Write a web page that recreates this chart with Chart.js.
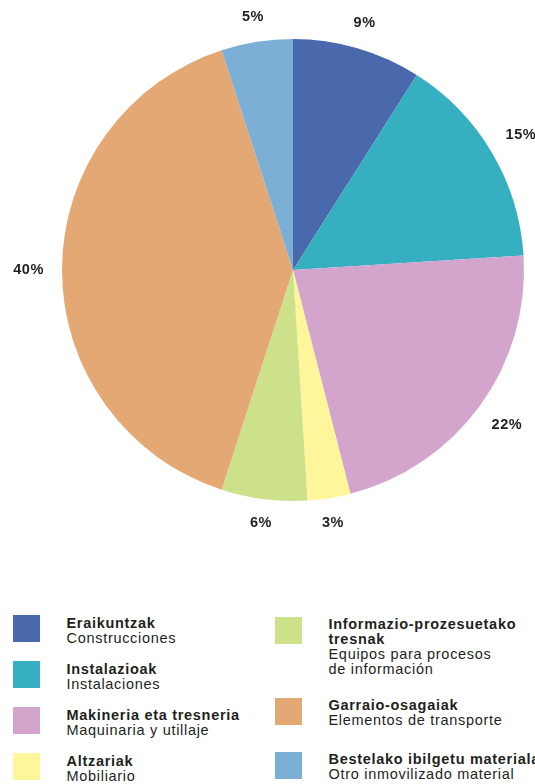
<!DOCTYPE html>
<html>
<head>
<meta charset="utf-8">
<script src="https://cdn.jsdelivr.net/npm/chart.js@4"></script>
<style>
  body { margin: 0; background: #fff; font-family: "Liberation Sans", Arial, sans-serif; color: #231f20; }
  #wrap { position: relative; width: 535px; height: 784px; overflow: hidden; }
  #chartBox { position: absolute; left: 0; top: 0; width: 535px; height: 560px; }
  .sw { position: absolute; width: 27px; height: 27px; }
  .txt { position: absolute; font-size: 14.5px; line-height: 15px; letter-spacing: 0.7px; white-space: nowrap; }
  .txt b { display: block; }
</style>
</head>
<body>
<div id="wrap">
  <div id="chartBox"><canvas id="myChart"></canvas></div>
  <div id="legend"></div>
</div>
<script>
// Dati del grafico
const etiketak = ['Eraikuntzak', 'Instalazioak', 'Makineria eta tresneria', 'Altzariak',
  'Informazio-prozesuetako\ntresnak', 'Garraio-osagaiak', 'Bestelako ibilgetu materialak'];
const etiquetas = ['Construcciones', 'Instalaciones', 'Maquinaria y utillaje', 'Mobiliario',
  'Equipos para procesos\nde información', 'Elementos de transporte', 'Otro inmovilizado material'];
const balioak = [9, 15, 22, 3, 6, 40, 5];
const koloreak = ['#4a69ad', '#36b0c0', '#d3a5cd', '#fff69b', '#cde08a', '#e3a873', '#7bafd5'];

// Legenda (due colonne): [x quadrato, y quadrato, scostamento testo]
const legendPos = [
  [13, 615, 1.4], [13, 661, 1.4], [13, 707, 1.4], [13, 753, 1.4],
  [275, 617, -0.3], [275, 698, -0.3], [275, 752, -0.3]
];
const legend = document.getElementById('legend');
etiketak.forEach((lab, i) => {
  const [x, y, dy] = legendPos[i];
  const sw = document.createElement('div');
  sw.className = 'sw';
  sw.style.left = x + 'px';
  sw.style.top = y + 'px';
  sw.style.background = koloreak[i];
  legend.appendChild(sw);
  const t = document.createElement('div');
  t.className = 'txt';
  t.style.left = (x + 53.5) + 'px';
  t.style.top = (y + dy) + 'px';
  const b = document.createElement('b');
  b.innerHTML = lab.replace('\n', '<br>');
  t.appendChild(b);
  const s = document.createElement('span');
  s.innerHTML = etiquetas[i].replace('\n', '<br>');
  t.appendChild(s);
  legend.appendChild(t);
});

// Etichette percentuali fuori dalle fette
const pctLabels = {
  id: 'pctLabels',
  afterDatasetsDraw(chart) {
    const ctx = chart.ctx;
    const meta = chart.getDatasetMeta(0);
    ctx.save();
    ctx.font = 'bold 14.5px "Liberation Sans", Arial, sans-serif';
    if ('letterSpacing' in ctx) ctx.letterSpacing = '0.6px';
    ctx.fillStyle = '#231f20';
    ctx.textAlign = 'center';
    ctx.textBaseline = 'middle';
    meta.data.forEach((arc, i) => {
      const p = arc.getProps(['x', 'y', 'startAngle', 'endAngle', 'outerRadius'], true);
      const mid = (p.startAngle + p.endAngle) / 2;
      const txt = balioak[i] + '%';
      const hw = ctx.measureText(txt).width / 2;
      const c = Math.cos(mid), s = Math.sin(mid);
      const r = p.outerRadius + 18 + hw * Math.abs(c) + 5 * Math.abs(s);
      ctx.fillText(txt, p.x + c * r, p.y + s * r);
    });
    ctx.restore();
  }
};

const ctx = document.getElementById('myChart').getContext('2d');
const myChart = new Chart(ctx, {
  type: 'pie',
  data: {
    labels: etiquetas,
    datasets: [{
      data: balioak,
      backgroundColor: koloreak,
      borderWidth: 0
    }]
  },
  options: {
    responsive: true,
    maintainAspectRatio: false,
    animation: false,
    layout: { padding: { left: 62, right: 11, top: 39, bottom: 59 } },
    plugins: {
      legend: { display: false },
      tooltip: { enabled: false }
    }
  },
  plugins: [pctLabels]
});
</script>
</body>
</html>
